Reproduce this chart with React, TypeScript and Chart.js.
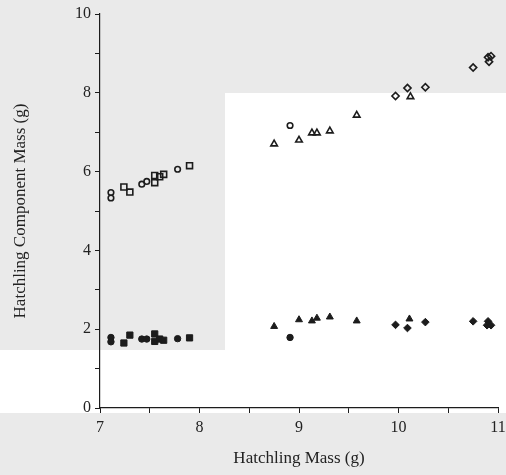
import React, { useEffect, useRef } from "react";
import { Chart, registerables } from "chart.js";

Chart.register(...registerables);

// Open symbols (upper cluster)
const openSquareX = [7.24, 7.3, 7.55, 7.55, 7.6, 7.64, 7.9];
const openSquareY = [5.61, 5.48, 5.72, 5.9, 5.87, 5.93, 6.15];
const openCircleX = [7.11, 7.11, 7.42, 7.47, 7.78, 8.91];
const openCircleY = [5.47, 5.33, 5.68, 5.75, 6.06, 7.17];
const openTriangleX = [8.75, 9.0, 9.13, 9.18, 9.31, 9.58, 10.12];
const openTriangleY = [6.7, 6.8, 6.98, 6.98, 7.03, 7.43, 7.9];
const openDiamondX = [9.97, 10.09, 10.27, 10.75, 10.9, 10.93, 10.91];
const openDiamondY = [7.92, 8.12, 8.14, 8.64, 8.9, 8.93, 8.79];

// Filled symbols (lower cluster)
const filledSquareX = [7.24, 7.3, 7.55, 7.55, 7.6, 7.64, 7.9];
const filledSquareY = [1.65, 1.85, 1.88, 1.69, 1.75, 1.72, 1.78];
const filledCircleX = [7.11, 7.11, 7.42, 7.47, 7.78, 8.91];
const filledCircleY = [1.79, 1.68, 1.75, 1.75, 1.76, 1.79];
const filledTriangleX = [8.75, 9.0, 9.13, 9.18, 9.31, 9.58, 10.11];
const filledTriangleY = [2.07, 2.24, 2.21, 2.28, 2.31, 2.21, 2.26];
const filledDiamondX = [9.97, 10.09, 10.27, 10.75, 10.9, 10.89, 10.93];
const filledDiamondY = [2.11, 2.03, 2.18, 2.2, 2.2, 2.1, 2.1];

const X_MIN = 7;
const X_MAX = 11;
const Y_MIN = 0;
const Y_MAX = 10;
const xTickLabels = ["7", "8", "9", "10", "11"];
const yTickLabels = ["0", "2", "4", "6", "8", "10"];

const INK = "#1c1c1c";
const TEXT = "#222222";
const FONT = "'Liberation Serif', 'Times New Roman', serif";

const pts = (xs: number[], ys: number[]) => xs.map((x, i) => ({ x, y: ys[i] }));

const paperPlugin = {
  id: "paper",
  beforeDraw(chart: any) {
    const { ctx, width, height } = chart;
    ctx.save();
    ctx.fillStyle = "#eaeaea";
    ctx.fillRect(0, 0, width, height);
    ctx.fillStyle = "#ffffff";
    ctx.fillRect(225, 93, width - 225, 320);
    ctx.fillRect(0, 350, 225, 63);
    ctx.restore();
  },
};

export default function App() {
  const ref = useRef<HTMLCanvasElement | null>(null);

  useEffect(() => {
    document.body.style.margin = "0";
    const canvas = ref.current;
    if (!canvas) return;
    const mk = (
      label: string,
      xs: number[],
      ys: number[],
      style: string,
      filled: boolean,
      radius: number
    ) => ({
      label,
      data: pts(xs, ys),
      pointStyle: style,
      pointRadius: radius,
      pointBorderWidth: filled ? 1 : 1.6,
      pointBackgroundColor: filled ? INK : "rgba(255,255,255,0)",
      pointBorderColor: INK,
      showLine: false,
    });
    const chart = new Chart(canvas, {
      type: "scatter",
      data: {
        datasets: [
          mk("Open squares", openSquareX, openSquareY, "rect", false, 4.2),
          mk("Open circles", openCircleX, openCircleY, "circle", false, 2.8),
          mk("Open triangles", openTriangleX, openTriangleY, "triangle", false, 3.8),
          mk("Open diamonds", openDiamondX, openDiamondY, "rectRot", false, 3.6),
          mk("Filled squares", filledSquareX, filledSquareY, "rect", true, 4.4),
          mk("Filled circles", filledCircleX, filledCircleY, "circle", true, 3.2),
          mk("Filled triangles", filledTriangleX, filledTriangleY, "triangle", true, 4),
          mk("Filled diamonds", filledDiamondX, filledDiamondY, "rectRot", true, 3.8),
        ],
      },
      options: {
        responsive: false,
        animation: false,
        layout: { padding: { top: 14, right: 0, bottom: 4, left: 0 } },
        plugins: {
          legend: { display: false },
          tooltip: { enabled: false },
        },
        scales: {
          x: {
            type: "linear",
            min: X_MIN,
            max: X_MAX,
            afterFit: (s: any) => {
              s.height = 63;
              s.paddingRight = 8;
              s.paddingLeft = 0;
            },
            ticks: {
              stepSize: 0.5,
              color: TEXT,
              font: { family: FONT, size: 16 },
              padding: 5,
              maxRotation: 0,
              autoSkip: false,
              callback: (v: any) => {
                const s = String(v);
                return xTickLabels.includes(s) ? s : "";
              },
            },
            grid: {
              drawOnChartArea: false,
              tickLength: 5,
              tickColor: INK,
              tickWidth: 1,
            },
            border: { color: INK, width: 1.2 },
            title: {
              display: true,
              text: "Hatchling Mass (g)",
              color: TEXT,
              font: { family: FONT, size: 17 },
              padding: { top: 0, bottom: 2 },
            },
          },
          y: {
            type: "linear",
            min: Y_MIN,
            max: Y_MAX,
            afterFit: (s: any) => {
              s.width = 100;
            },
            ticks: {
              stepSize: 1,
              color: TEXT,
              font: { family: FONT, size: 16 },
              padding: 4,
              autoSkip: false,
              callback: (v: any) => {
                const s = String(v);
                return yTickLabels.includes(s) ? s : "";
              },
            },
            grid: {
              drawOnChartArea: false,
              tickLength: 5,
              tickColor: INK,
              tickWidth: 1,
            },
            border: { color: INK, width: 1.2 },
            title: {
              display: true,
              text: "Hatchling Component Mass (g)",
              color: TEXT,
              font: { family: FONT, size: 17 },
              padding: { top: 10, bottom: 0 },
            },
          },
        },
      },
      plugins: [paperPlugin],
    });
    return () => chart.destroy();
  }, []);

  return (
    <canvas
      ref={ref}
      width={506}
      height={475}
      style={{ position: "absolute", left: 0, top: 0, width: 506, height: 475 }}
    />
  );
}
